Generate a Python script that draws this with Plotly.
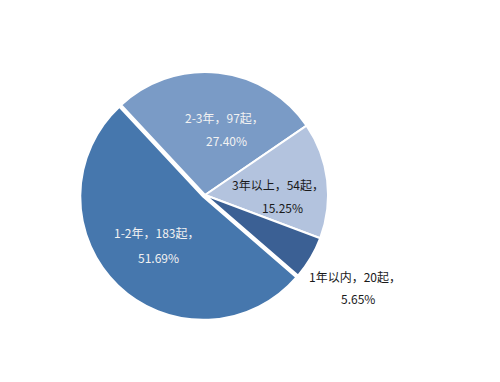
import plotly.graph_objects as go

categories = ["2-3年", "3年以上", "1年以内", "1-2年"]
counts = [97, 54, 20, 183]
percents = ["27.40%", "15.25%", "5.65%", "51.69%"]
colors = ["#7a9bc6", "#b3c3de", "#3b6094", "#4677ad"]
pulls = [0, 0, 0, 0.02]

fig = go.Figure(go.Pie(
    labels=categories,
    values=counts,
    sort=False,
    direction="clockwise",
    rotation=-43,
    pull=pulls,
    marker=dict(colors=colors, line=dict(color="white", width=2)),
    textinfo="none",
    hoverinfo="label+value+percent",
    domain=dict(x=[0.159, 0.661], y=[0.161, 0.818]),
    showlegend=False,
))

# label positions (pixel centers) and text colours
label_pos = [(224, 118, 226, 140), (278, 185, 282, 207), (355, 276, 358, 298), (156, 233, 158, 257)]
text_colors = ["#f2f2f2", "#1a1a1a", "#1a1a1a", "#f2f2f2"]
W, H = 500, 382
for cat, n, p, (x1, y1, x2, y2), tc in zip(categories, counts, percents, label_pos, text_colors):
    for txt, x, y in ((f"{cat}，{n}起，", x1, y1), (p, x2, y2)):
        fig.add_annotation(x=x / W, y=1 - y / H, xref="paper", yref="paper",
                           xanchor="center", yanchor="middle",
                           text=txt, showarrow=False,
                           font=dict(size=12, color=tc, family="Noto Sans CJK SC"))

fig.update_layout(width=W, height=H, margin=dict(l=0, r=0, t=0, b=0),
                  paper_bgcolor="white", plot_bgcolor="white")
fig.write_html("out.html")
